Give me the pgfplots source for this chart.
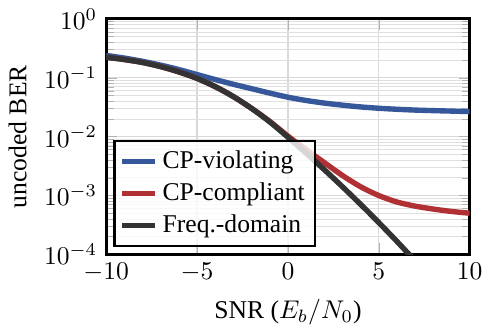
\documentclass[border=0pt]{standalone}
\usepackage{fontspec}
\setmainfont{Liberation Serif}
\usepackage{pgfplots}
\pgfplotsset{compat=1.18}
\definecolor{cpblue}{HTML}{36589A}
\definecolor{cpred}{HTML}{B03034}
\definecolor{cpdark}{HTML}{333333}
\begin{document}
\begin{tikzpicture}
\begin{axis}[
  scale only axis,
  width=142pt, height=92pt,
  xmin=-10, xmax=10,
  ymode=log, ymin=1e-4, ymax=1,
  xtick={-10,-5,0,5,10},
  ytick={1e-4,1e-3,1e-2,1e-1,1},
  xlabel={SNR ($E_b/N_0$)},
  ylabel={uncoded BER},
  grid=both,
  major grid style={gray!30, line width=0.5pt},
  minor grid style={gray!25, line width=0.35pt},
  tick style={gray!60},
  axis line style={black, line width=1.2pt},
  legend cell align=left,
  legend image post style={line width=2pt},
  legend style={at={(rel axis cs:0.02,0.03)}, anchor=south west,
    fill=white, fill opacity=0.8, draw opacity=1, text opacity=1,
    draw=black, line width=0.8pt, inner sep=2pt,
    /tikz/every even column/.append style={column sep=2pt}},
  every axis plot/.append style={line width=2.1pt, smooth},
  legend image code/.code={\draw[#1] (0cm,0cm) -- (0.45cm,0cm);},
]
\addplot[cpblue] coordinates {
 (-10,0.2399)(-9,0.2163)(-8,0.1905)(-7,0.1641)(-6,0.1380)(-5,0.1135)
 (-4,0.0933)(-3,0.0776)(-2,0.0653)(-1,0.0550)(0,0.0468)(1,0.0412)
 (2,0.0372)(3,0.0343)(4,0.0320)(5,0.0304)(6,0.0292)(7,0.0283)
 (8,0.0277)(9,0.0272)(10,0.0267)
};
\addlegendentry{CP-violating}
\addplot[cpred] coordinates {
 (-10,0.2239)(-9,0.2042)(-8,0.1820)(-7,0.1549)(-6,0.1259)(-5,0.0977)
 (-4,0.0708)(-3,0.0479)(-2,0.0302)(-1,0.0182)(0,0.01023)(1,0.00603)
 (2,0.00363)(3,0.00219)(4,0.00141)(5,0.00100)(6,0.000776)(7,0.000661)
 (8,0.000589)(9,0.000537)(10,0.000501)
};
\addlegendentry{CP-compliant}
\addplot[cpdark] coordinates {
 (-10,0.2239)(-9,0.2042)(-8,0.1820)(-7,0.1549)(-6,0.1259)(-5,0.0977)
 (-4,0.0708)(-3,0.0479)(-2,0.0302)(-1,0.0178)(0,0.00977)(1,0.00525)
 (2,0.00275)(3,0.00141)(4,0.000708)(5,0.000347)(6,0.000166)(7,0.0000776)
};
\addlegendentry{Freq.-domain}
\end{axis}
\end{tikzpicture}
\end{document}
